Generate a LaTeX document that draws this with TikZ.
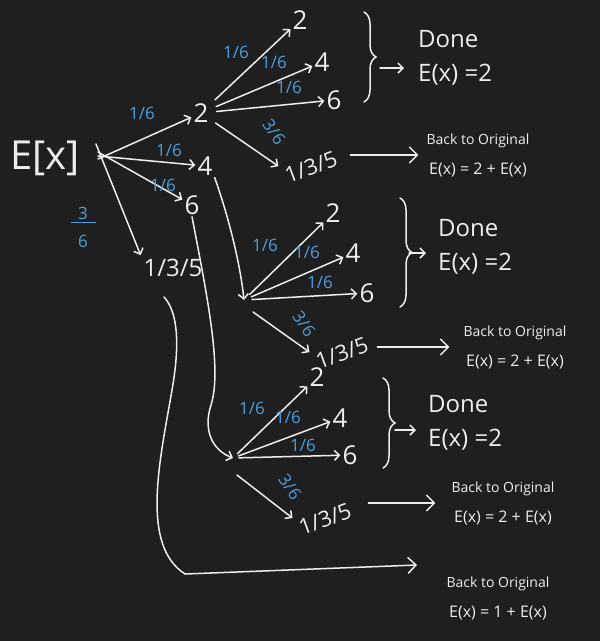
\documentclass[tikz,border=0pt]{standalone}
\usepackage{fontspec}
\setmainfont{Open Sans}
\usetikzlibrary{arrows.meta,decorations.pathreplacing,calc}
\definecolor{bg}{HTML}{1F1F1F}
\definecolor{ink}{HTML}{EDEDED}
\definecolor{blu}{HTML}{4A9FE0}
\begin{document}
\begin{tikzpicture}[x=1pt,y=-1pt,
  every node/.style={text=ink, inner sep=2pt},
  num/.style={font=\fontsize{26}{28}\selectfont},
  numsm/.style={font=\fontsize{22}{24}\selectfont},
  lab/.style={text=blu, font=\fontsize{17}{19}\selectfont},
  arr/.style={draw=ink, line width=1.5pt, line cap=round, -{Straight Barb[length=5pt,width=10pt]}},
  bigarr/.style={draw=ink, line width=1.5pt, line cap=round, -{Straight Barb[length=8pt,width=16pt]}},
  brc/.style={draw=ink, line width=1.5pt, line cap=round, decorate, decoration={brace, amplitude=12pt}},
  donebox/.style={font=\fontsize{24}{34}\selectfont, align=left, anchor=west},
  backbox/.style={font=\fontsize{14}{30}\selectfont, align=center}]
\fill[bg] (0,0) rectangle (600,641);
\useasboundingbox (0,0) rectangle (600,641);

% root
\node[font=\fontsize{40}{42}\selectfont, inner sep=6pt] (E) at (45,158) {E[x]};
\node[num] (n2) at (201,113) {2};
\node[num] (n4) at (205,166) {4};
\node[num] (n6) at (192,205) {6};
\node[font=\fontsize{24}{26}\selectfont] (n135) at (173,268) {1/3/5};

\draw[arr] ([shift={(12,1)}]E.east) -- (n2);
\draw[arr] ([shift={(12,-2)}]E.east) -- (n4);
\draw[arr] ([shift={(12,-6)}]E.east) -- (n6);
\draw[arr, shorten >=2pt] ([shift={(10,-14)}]E.east) -- (n135.north west);

\node[lab] (l1) at (142,113) {1/6};
\node[lab] (l2) at (169,150) {1/6};
\node[lab] (l3) at (163,185) {1/6};
\node[lab, align=center] (q36) at (83,227) {3\\[-15pt]\rule{25pt}{1.5pt}\\[5pt]6};

% fan 1
\node[num] (a2) at (300,20) {2};
\node[num] (a4) at (322,62) {4};
\node[num] (a6) at (334,100) {6};
\node[numsm, rotate=20] (a135) at (311,167) {1/3/5};
\draw[arr, shorten <=6pt] (n2) -- (a2);
\draw[arr, shorten <=6pt] (n2) -- (a4);
\draw[arr, shorten <=6pt] (n2) -- (a6);
\draw[arr, shorten <=6pt, shorten >=2pt] (n2) -- (a135.north west);
\node[lab] at (236,52) {1/6};
\node[lab] at (274,62) {1/6};
\node[lab] at (289,87) {1/6};
\node[lab, rotate=-55] at (274,132) {3/6};
\draw[brc] (364,12) -- (364,102);
\coordinate (t1) at (380,68);
\node[donebox] (d1) at (416,58) {Done\\E(x) =2};
\draw[arr, shorten >=12pt] (t1) -- (t1 -| d1.west);
\node[backbox] (bk1) at (478,155) {Back to Original\\{\fontsize{16}{16}\selectfont E(x) = 2 + E(x)}};
\draw[bigarr, shorten <=12pt, shorten >=6pt] (a135.east |- bk1.west) -- (bk1.west);

% fan 2
\coordinate (f2) at (244,300);
\draw[arr] (n4.south east) .. controls (228,215) and (240,262) .. (f2);
\node[num] (b2) at (333,213) {2};
\node[num] (b4) at (353,253) {4};
\node[num] (b6) at (367,293) {6};
\node[numsm, rotate=20] (b135) at (342,353) {1/3/5};
\draw[arr, shorten <=8pt] (f2) -- (b2);
\draw[arr, shorten <=8pt] (f2) -- (b4);
\draw[arr, shorten <=8pt] (f2) -- (b6);
\draw[arr, shorten >=2pt] ([shift={(9,12)}]f2) -- (b135.north west);
\node[lab] at (265,245) {1/6};
\node[lab] at (307,252) {1/6};
\node[lab] at (320,282) {1/6};
\node[lab, rotate=-55] at (304,324) {3/6};
\draw[brc] (400,198) -- (400,307);
\coordinate (t2) at (409,253);
\node[donebox] (d2) at (436,247) {Done\\E(x) =2};
\draw[arr, shorten >=10pt] (t2) -- (t2 -| d2.west);
\node[backbox] (bk2) at (515,347) {Back to Original\\{\fontsize{16}{16}\selectfont E(x) = 2 + E(x)}};
\draw[bigarr, shorten <=8pt, shorten >=12pt] (b135.east |- bk2.west) -- (bk2.west);

% fan 3
\coordinate (f3) at (233,458);
\draw[arr] (n6.south) .. controls (208,300) and (222,370) .. (211,405) .. controls (203,430) and (212,450) .. (f3);
\node[num] (c2) at (317,377) {2};
\node[num] (c4) at (340,418) {4};
\node[num] (c6) at (350,455) {6};
\node[numsm, rotate=20] (c135) at (325,519) {1/3/5};
\draw[arr, shorten <=6pt] (f3) -- (c2);
\draw[arr, shorten <=6pt] (f3) -- (c4);
\draw[arr, shorten <=6pt] (f3) -- (c6);
\draw[arr, shorten >=2pt] ([shift={(4,17)}]f3) -- (c135.north west);
\node[lab] at (252,408) {1/6};
\node[lab] at (288,417) {1/6};
\node[lab] at (303,445) {1/6};
\node[lab, rotate=-55] at (290,487) {3/6};
\draw[brc] (383,378) -- (383,468);
\coordinate (t3) at (395,430);
\node[donebox] (d3) at (426,423) {Done\\E(x) =2};
\draw[arr, shorten >=10pt] (t3) -- (t3 -| d3.west);
\node[backbox] (bk3) at (503,503) {Back to Original\\{\fontsize{16}{16}\selectfont E(x) = 2 + E(x)}};
\draw[bigarr, shorten <=16pt, shorten >=14pt] (c135.east |- bk3.west) -- (bk3.west);

% bottom
\coordinate (g) at (417,565);
\draw[bigarr] ([xshift=-9pt,yshift=-18pt]n135.south) .. controls (178,312) and (180,345) .. (172,390) .. controls (160,460) and (140,545) .. (185,574) -- (g);
\node[backbox] (bk4) at (498,598) {Back to Original\\{\fontsize{16}{16}\selectfont E(x) = 1 + E(x)}};
\end{tikzpicture}
\end{document}
